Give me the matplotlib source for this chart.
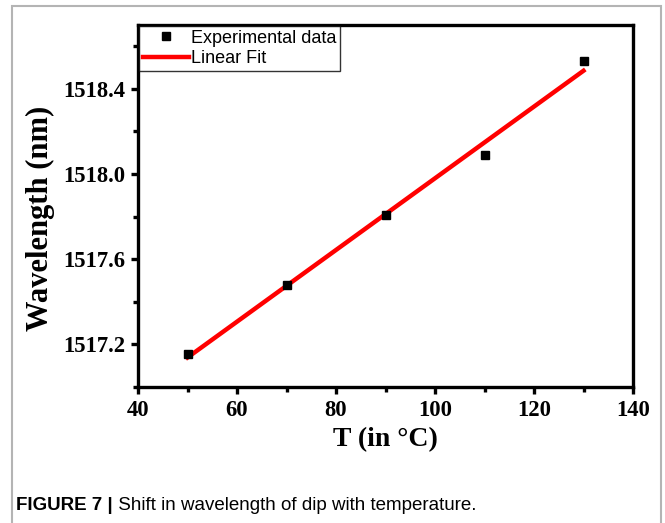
import matplotlib
matplotlib.use("Agg")
import matplotlib.pyplot as plt
from matplotlib.patches import Rectangle
from matplotlib.ticker import MultipleLocator
import numpy as np

# data
temp = [50, 70, 90, 110, 130]
wavelength = [1517.153, 1517.477, 1517.809, 1518.09, 1518.53]

x_ticks = [40, 60, 80, 100, 120, 140]
y_ticks = [1517.2, 1517.6, 1518.0, 1518.4]

caption_bold = "FIGURE 7 |"
caption_rest = " Shift in wavelength of dip with temperature."

serif = "Liberation Serif"
sans = "Liberation Sans"

fig = plt.figure(figsize=(6.65, 5.23), dpi=100)
ax = fig.add_axes([138/665, 1 - 387/523, (633-138)/665, (387-25)/523])

# linear fit of the measured points
k, b = np.polyfit(temp, wavelength, 1)
fit_x = np.array([temp[0], temp[-1]])
ax.plot(fit_x, k*fit_x + b, color="#ff0000", lw=3.2, label="Linear Fit", zorder=2)
ax.plot(temp, wavelength, "s", color="black", ms=6, label="Experimental data", zorder=3)

ax.set_xlim(40, 140)
ax.set_ylim(1517.0, 1518.7)
ax.set_xticks(x_ticks)
ax.set_yticks(y_ticks)
ax.xaxis.set_minor_locator(MultipleLocator(10))
ax.yaxis.set_minor_locator(MultipleLocator(0.2))
ax.set_yticklabels(["%.1f" % v for v in y_ticks])

for s in ax.spines.values():
    s.set_linewidth(2.4)
ax.tick_params(which="major", direction="out", length=5, width=2.4, pad=4)
ax.tick_params(which="minor", direction="out", length=3.5, width=2.4)
for lab in ax.get_xticklabels() + ax.get_yticklabels():
    lab.set_fontfamily(serif)
    lab.set_fontweight("bold")
    lab.set_fontsize(16.3)

ax.set_xlabel("T (in °C)", fontfamily=serif, fontweight="bold", fontsize=20, labelpad=5)
ax.set_ylabel("Wavelength (nm)", fontfamily=serif, fontweight="bold", fontsize=22)
ax.yaxis.set_label_coords(-0.168, 0.465)

h, l = ax.get_legend_handles_labels()
leg = ax.legend(h[::-1], l[::-1], loc="upper left", prop={"family": sans, "size": 13},
                frameon=True, fancybox=False, edgecolor="black", borderaxespad=0.05,
                handlelength=2.6, handletextpad=0.1, labelspacing=0.2,
                borderpad=0.2, markerscale=0.85)
leg.get_frame().set_linewidth(1.0)

# outer grey frame of the figure panel
fig.add_artist(Rectangle((12/665, -0.2), (661-12)/665, 1.2 - 6/523, transform=fig.transFigure,
                         fill=False, edgecolor="#b4b4b4", lw=1.5))

t1 = fig.text(16/665, 1 - 510/523, caption_bold, fontfamily=sans, fontweight="bold",
              fontsize=13.5, va="baseline")
fig.canvas.draw()
bb = t1.get_window_extent()
fig.text(bb.x1/665, 1 - 510/523, caption_rest, fontfamily=sans, fontsize=13.5, va="baseline")

fig.savefig("out.png", dpi=100)
